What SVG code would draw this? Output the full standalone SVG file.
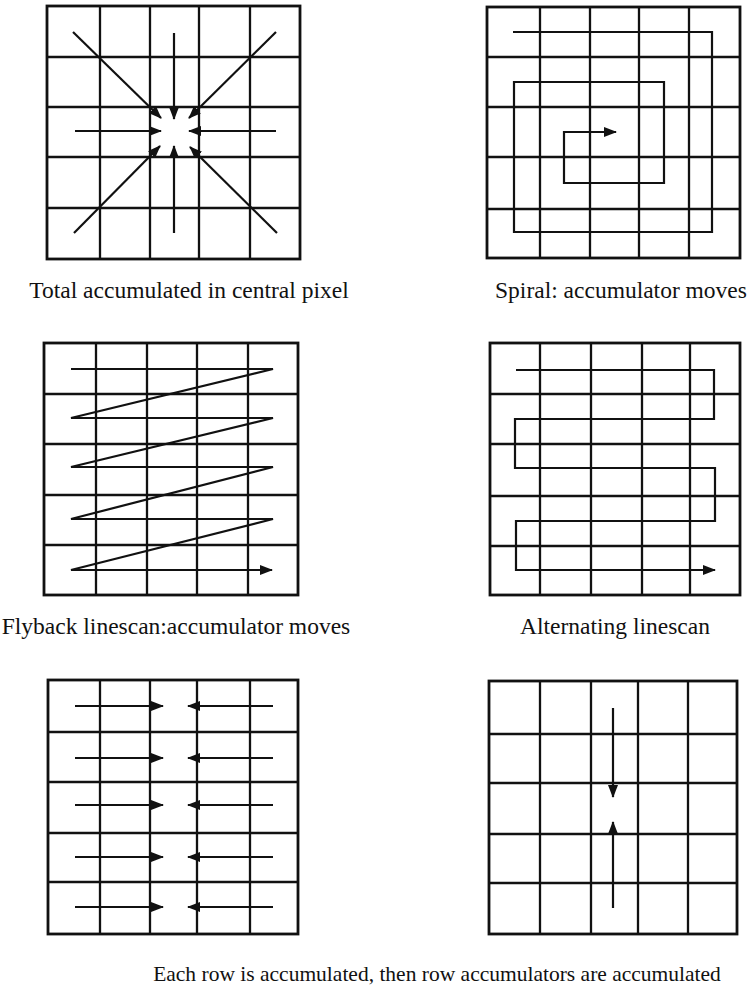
<svg xmlns="http://www.w3.org/2000/svg" width="747" height="990" viewBox="0 0 747 990">
<style>
.grid{fill:none;stroke:#111;stroke-width:2.3}
.frame{fill:none;stroke:#111;stroke-width:2.8}
.ln{fill:none;stroke:#111;stroke-width:2.2;stroke-linejoin:miter}
.cap{font-family:"Liberation Serif","Times New Roman",serif;font-size:23.5px;fill:#111;text-anchor:middle}
.cap2{font-size:21.5px}
</style>
<defs>
<marker id="ah" markerUnits="userSpaceOnUse" markerWidth="13" markerHeight="10" refX="12" refY="5" orient="auto">
<path d="M0,0 L13,5 L0,10 Z" fill="#111"/>
</marker>
</defs>
<rect width="747" height="990" fill="#fff"/>

<g id="grid-central">
<rect class="frame" x="47" y="6" width="253" height="253"/>
<path class="grid" d="M100,6V259M150,6V259M199,6V259M250,6V259M47,57H300M47,107H300M47,157H300M47,208H300"/>
</g>
<g id="grid-spiral">
<rect class="frame" x="487" y="7" width="253" height="251"/>
<path class="grid" d="M540,7V258M590,7V258M639,7V258M689,7V258M487,57H740M487,107H740M487,157H740M487,209H740"/>
</g>
<g id="grid-flyback">
<rect class="frame" x="44" y="343" width="254" height="252"/>
<path class="grid" d="M96,343V595M147,343V595M197,343V595M248,343V595M44,394H298M44,444H298M44,495H298M44,545H298"/>
</g>
<g id="grid-alternating">
<rect class="frame" x="490" y="343" width="250" height="252"/>
<path class="grid" d="M540,343V595M591,343V595M642,343V595M690,343V595M490,394H740M490,444H740M490,496H740M490,546H740"/>
</g>
<g id="grid-rows">
<rect class="frame" x="48" y="680" width="250" height="254"/>
<path class="grid" d="M100,680V934M150,680V934M197,680V934M250,680V934M48,732H298M48,782H298M48,833H298M48,882H298"/>
</g>
<g id="grid-column">
<rect class="frame" x="489" y="681" width="248" height="253"/>
<path class="grid" d="M540,681V934M591,681V934M638,681V934M688,681V934M489,734H737M489,783H737M489,834H737M489,883H737"/>
</g>

<g id="connectors">
<line class="ln" x1="73" y1="32" x2="161" y2="118" marker-end="url(#ah)"/>
<line class="ln" x1="174" y1="33" x2="174" y2="119" marker-end="url(#ah)"/>
<line class="ln" x1="276" y1="32" x2="189" y2="118" marker-end="url(#ah)"/>
<line class="ln" x1="75" y1="131" x2="161" y2="131" marker-end="url(#ah)"/>
<line class="ln" x1="276" y1="131" x2="189" y2="131" marker-end="url(#ah)"/>
<line class="ln" x1="74" y1="233" x2="160" y2="146" marker-end="url(#ah)"/>
<line class="ln" x1="174" y1="233" x2="174" y2="146" marker-end="url(#ah)"/>
<line class="ln" x1="277" y1="233" x2="190" y2="147" marker-end="url(#ah)"/>

<path class="ln" d="M513,32H712V232H514V82H664V183H564V132H616" marker-end="url(#ah)"/>

<path class="ln" d="M71,369H273L71,418H273L71,467H273L71,519H273L71,570H272" marker-end="url(#ah)"/>

<path class="ln" d="M516,370H714V419H515V468H715V521H516V570H715" marker-end="url(#ah)"/>

<line class="ln" x1="75" y1="706" x2="163" y2="706" marker-end="url(#ah)"/>
<line class="ln" x1="273" y1="706" x2="188" y2="706" marker-end="url(#ah)"/>
<line class="ln" x1="75" y1="758" x2="163" y2="758" marker-end="url(#ah)"/>
<line class="ln" x1="273" y1="758" x2="188" y2="758" marker-end="url(#ah)"/>
<line class="ln" x1="75" y1="805" x2="163" y2="805" marker-end="url(#ah)"/>
<line class="ln" x1="273" y1="805" x2="188" y2="805" marker-end="url(#ah)"/>
<line class="ln" x1="75" y1="857" x2="163" y2="857" marker-end="url(#ah)"/>
<line class="ln" x1="273" y1="857" x2="188" y2="857" marker-end="url(#ah)"/>
<line class="ln" x1="75" y1="907" x2="163" y2="907" marker-end="url(#ah)"/>
<line class="ln" x1="273" y1="907" x2="188" y2="907" marker-end="url(#ah)"/>

<line class="ln" x1="613" y1="708" x2="613" y2="797" marker-end="url(#ah)"/>
<line class="ln" x1="613" y1="908" x2="613" y2="822" marker-end="url(#ah)"/>
</g>

<text class="cap" x="189" y="298">Total accumulated in central pixel</text>
<text class="cap" x="621" y="298">Spiral: accumulator moves</text>
<text class="cap" x="176" y="634">Flyback linescan:accumulator moves</text>
<text class="cap" x="615" y="634">Alternating linescan</text>
<text class="cap cap2" x="437" y="981">Each row is accumulated, then row accumulators are accumulated</text>
</svg>
